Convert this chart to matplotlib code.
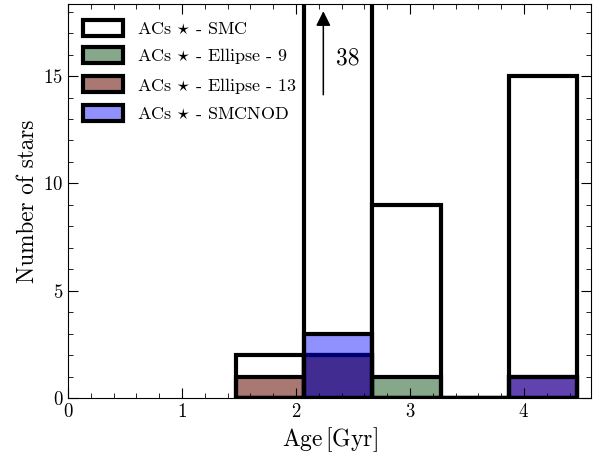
import numpy as np
import matplotlib
matplotlib.use("Agg")
import matplotlib.pyplot as plt

plt.rcParams['font.family'] = 'serif'
plt.rcParams['font.serif'] = ['cmr10']
plt.rcParams['mathtext.fontset'] = 'cm'
plt.rcParams['axes.unicode_minus'] = False
plt.rcParams['axes.formatter.use_mathtext'] = True

# ビンの端 (Gyr)
bin_edges = np.linspace(1.47, 4.47, 6)

# 各サンプルの星の数
smc = [2, 38, 9, 0, 15]
ellipse9 = [0, 2, 1, 0, 0]
ellipse13 = [1, 2, 0, 0, 1]
smcnod = [0, 3, 0, 0, 1]

labels = [r'ACs $\star$ - SMC', r'ACs $\star$ - Ellipse - 9',
          r'ACs $\star$ - Ellipse - 13', r'ACs $\star$ - SMCNOD']
colors = [(1, 1, 1, 1), (17/255, 81/255, 25/255, 0.5),
          (100/255, 10/255, 0, 0.55), (0, 0, 1, 0.435)]

fig, ax = plt.subplots(figsize=(6.02, 4.62), dpi=100)
fig.subplots_adjust(left=0.113, right=0.982, bottom=0.1385, top=0.991)

widths = np.diff(bin_edges)
for counts, lab, col in zip([smc, ellipse9, ellipse13, smcnod], labels, colors):
    ax.bar(bin_edges[:-1], counts, width=widths, align='edge', color=col,
           edgecolor='black', linewidth=3, label=lab)

# 38 は範囲外なので矢印で表示
ax.annotate('', xy=(2.24, 18.15), xytext=(2.24, 14.0),
            arrowprops=dict(arrowstyle='-|>', color='black', lw=1.1,
                            mutation_scale=22))
ax.text(2.45, 15.8, '38', fontsize=17, ha='center', va='center')

ax.set_xlim(0, 4.59)
ax.set_ylim(0, 18.35)
ax.set_xticks([0, 1, 2, 3, 4])
ax.set_yticks([0, 5, 10, 15])
ax.set_xticks(np.arange(0, 4.6, 0.2), minor=True)
ax.set_yticks(np.arange(0, 18.4, 1), minor=True)
ax.tick_params(which='both', direction='in', top=True, right=True, labelsize=13.5)
ax.tick_params(which='major', length=7, width=0.8)
ax.tick_params(which='minor', length=3.5, width=0.6)

ax.set_xlabel(r'$\mathrm{Age}\,[\mathrm{Gyr}]$', fontsize=17, labelpad=3)
ax.set_ylabel('Number of stars', fontsize=16.7, labelpad=3)

ax.legend(loc='upper left', frameon=False, fontsize=13, handlelength=2.2,
          handleheight=1.0, borderaxespad=0.45, labelspacing=0.52,
          handletextpad=0.75)

plt.savefig('out.png', dpi=100)
